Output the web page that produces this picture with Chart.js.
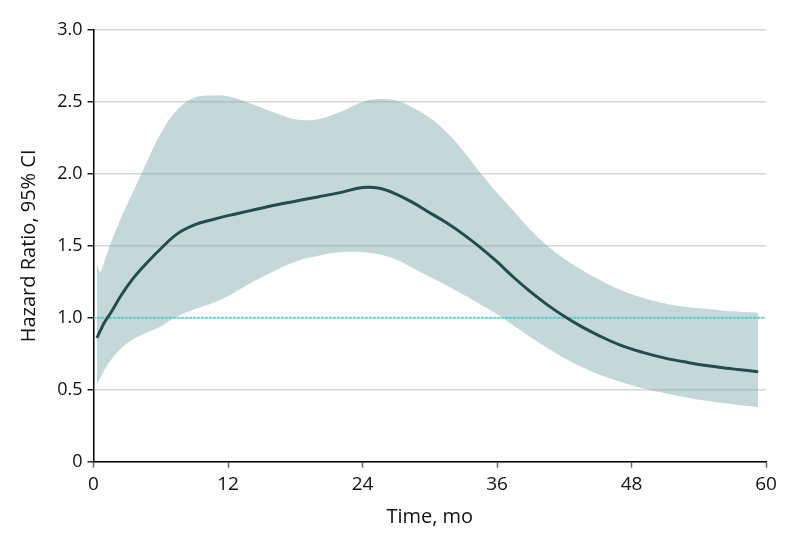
<!DOCTYPE html>
<html>
<head>
<meta charset="utf-8">
<script src="https://cdn.jsdelivr.net/npm/chart.js@4/dist/chart.umd.min.js"></script>
<style>
  html, body { margin: 0; padding: 0; background: #ffffff; }
  #wrap { width: 794px; height: 546px; position: relative; }
</style>
</head>
<body>
<div id="wrap"><canvas id="c" width="794" height="546"></canvas></div>
<script>
// ---- data ----
const months = [0.3, 0.6, 1, 1.5, 2.5, 3.5, 4.5, 6, 7.5, 9, 10.5, 12, 14, 16, 18, 20, 22, 24, 25.5, 27, 28.5, 30, 31.5, 33, 34.5, 36, 37.5, 39, 40.5, 42, 43.5, 45, 47, 49, 51, 53, 55, 57, 59.3];
const hazardRatio = [0.86, 0.91, 0.97, 1.03, 1.16, 1.27, 1.36, 1.48, 1.585, 1.645, 1.68, 1.71, 1.745, 1.78, 1.81, 1.84, 1.87, 1.905, 1.90, 1.86, 1.80, 1.73, 1.66, 1.58, 1.49, 1.39, 1.28, 1.18, 1.09, 1.01, 0.94, 0.88, 0.81, 0.76, 0.72, 0.69, 0.665, 0.645, 0.625];
const ciUpper = [1.38, 1.32, 1.40, 1.51, 1.70, 1.87, 2.04, 2.28, 2.45, 2.53, 2.545, 2.54, 2.49, 2.43, 2.38, 2.38, 2.43, 2.50, 2.52, 2.51, 2.46, 2.39, 2.29, 2.16, 2.01, 1.87, 1.74, 1.61, 1.50, 1.41, 1.335, 1.27, 1.195, 1.14, 1.10, 1.075, 1.06, 1.045, 1.035];
const ciLower = [0.54, 0.58, 0.64, 0.70, 0.79, 0.85, 0.89, 0.94, 1.01, 1.06, 1.10, 1.15, 1.24, 1.32, 1.39, 1.43, 1.455, 1.455, 1.44, 1.405, 1.345, 1.285, 1.225, 1.16, 1.095, 1.025, 0.945, 0.865, 0.79, 0.72, 0.66, 0.61, 0.555, 0.51, 0.475, 0.445, 0.42, 0.40, 0.38];
const refMonths = [0, 59.8];
const refValues = [1, 1];
const xTickLabels = ['0', '12', '24', '36', '48', '60'];
const yTickLabels = ['0', '0.5', '1.0', '1.5', '2.0', '2.5', '3.0'];
const xTitle = 'Time, mo';
const yTitle = 'Hazard Ratio, 95% CI';

const toPts = (xs, ys) => xs.map((x, i) => ({ x: x, y: ys[i] }));
const FONT = '"Open Sans", "DejaVu Sans", sans-serif';

new Chart(document.getElementById('c'), {
  type: 'line',
  data: {
    datasets: [
      {
        label: 'Upper CI',
        data: toPts(months, ciUpper),
        borderWidth: 0,
        borderColor: 'rgba(0,0,0,0)',
        backgroundColor: 'rgba(126,168,171,0.45)',
        pointRadius: 0,
        fill: '+1',
        tension: 0.4,
        order: 4
      },
      {
        label: 'Lower CI',
        data: toPts(months, ciLower),
        borderWidth: 0,
        borderColor: 'rgba(0,0,0,0)',
        pointRadius: 0,
        fill: false,
        tension: 0.4,
        order: 3
      },
      {
        label: 'Reference',
        data: toPts(refMonths, refValues),
        borderColor: '#3fcfd6',
        borderWidth: 2,
        borderDash: [2, 2],
        pointRadius: 0,
        fill: false,
        order: 2
      },
      {
        label: 'Hazard ratio',
        data: toPts(months, hazardRatio),
        borderColor: '#244b4d',
        borderWidth: 3,
        pointRadius: 0,
        fill: false,
        tension: 0.4,
        order: 1
      }
    ]
  },
  options: {
    responsive: false,
    animation: false,
    layout: { padding: { left: 17, right: 28, top: 30, bottom: 17 } },
    plugins: {
      legend: { display: false },
      tooltip: { enabled: false },
      filler: { propagate: false }
    },
    scales: {
      x: {
        type: 'linear',
        min: 0,
        max: 60,
        afterFit: (s) => { s.height = 67.3; },
        border: { color: '#000', width: 1.5 },
        grid: { display: true, drawOnChartArea: false, drawTicks: true, tickLength: 6, tickColor: '#666', tickWidth: 1.5 },
        ticks: {
          stepSize: 12,
          padding: 5,
          color: '#111',
          font: { family: FONT, size: 19 },
          callback: (v, i) => xTickLabels[i],
          maxRotation: 0
        },
        title: { display: true, text: xTitle, color: '#111', font: { family: FONT, size: 20 }, padding: 0 }
      },
      y: {
        min: 0,
        max: 3,
        afterFit: (s) => { s.width = 76.5; },
        border: { color: '#000', width: 1.5 },
        grid: { color: '#d6d6d6', lineWidth: 1.5, drawTicks: true, tickLength: 6, tickColor: '#222', tickWidth: 1.5 },
        ticks: {
          stepSize: 0.5,
          padding: 5,
          color: '#111',
          font: { family: FONT, size: 18 },
          callback: (v, i) => yTickLabels[i]
        },
        title: { display: true, text: yTitle, color: '#111', font: { family: FONT, size: 20 }, padding: 0 }
      }
    }
  }
});
</script>
</body>
</html>
